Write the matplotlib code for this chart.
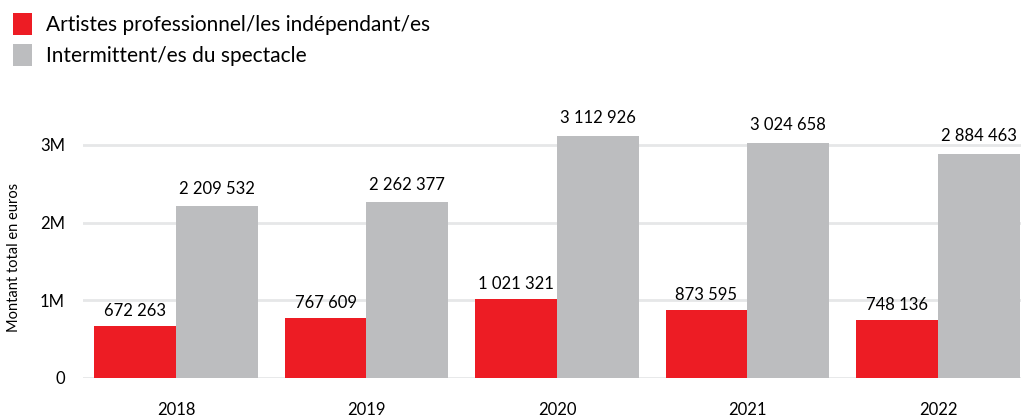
import numpy as np
import matplotlib.pyplot as plt

plt.rcParams['font.family'] = ['Lato', 'DejaVu Sans']

## DONNÉES ##
annees = ['2018', '2019', '2020', '2021', '2022']
artistes = [672263, 767609, 1021321, 873595, 748136]
intermittents = [2209532, 2262377, 3112926, 3024658, 2884463]

rouge = '#ED1C24'
gris = '#BCBDBF'

def fmt(v):
    return f'{v:,}'.replace(',', ' ')

## FIGURE ##
fig = plt.figure(figsize=(10.21, 4.17), dpi=100)
ax = fig.add_axes([83/1021, 39/417, (1021-83)/1021, (378-110)/417])

x = np.arange(len(annees))
w = 0.43
b1 = ax.bar(x - w/2, artistes, w, color=rouge, label='Artistes professionnel/les indépendant/es', zorder=3)
b2 = ax.bar(x + w/2, intermittents, w, color=gris, label='Intermittent/es du spectacle', zorder=3)

for rect, v in zip(b1, artistes):
    ax.annotate(fmt(v), (rect.get_x() + rect.get_width()/2, v), xytext=(0, 5),
                textcoords='offset points', ha='center', va='bottom', fontsize=12)
for rect, v in zip(b2, intermittents):
    ax.annotate(fmt(v), (rect.get_x() + rect.get_width()/2, v), xytext=(0, 7),
                textcoords='offset points', ha='center', va='bottom', fontsize=12)

ax.set_xlim(-0.488, 4.436)
ax.set_ylim(0, 3.45e6)
ax.set_yticks([0, 1e6, 2e6, 3e6])
ax.set_yticklabels(['0', '1M', '2M', '3M'], fontsize=12)
ax.set_xticks(x)
ax.set_xticklabels(annees, fontsize=12)
ax.tick_params(axis='both', length=0)
ax.tick_params(axis='y', pad=13)
ax.tick_params(axis='x', pad=17)
ax.grid(axis='y', color='#E6E7E8', linewidth=2, zorder=0)
for s in ax.spines.values():
    s.set_visible(False)

ax.set_ylabel('Montant total en euros', fontsize=10.5)
ax.yaxis.set_label_coords(-0.066, 0.45)

fig.legend(handles=[b1, b2], loc='upper left', bbox_to_anchor=(0.0, 1.0),
           frameon=False, fontsize=15, handlelength=0.95, handleheight=1.25,
           handletextpad=0.65, labelspacing=0.45, borderaxespad=0.2)

plt.savefig('out.png', dpi=100)
